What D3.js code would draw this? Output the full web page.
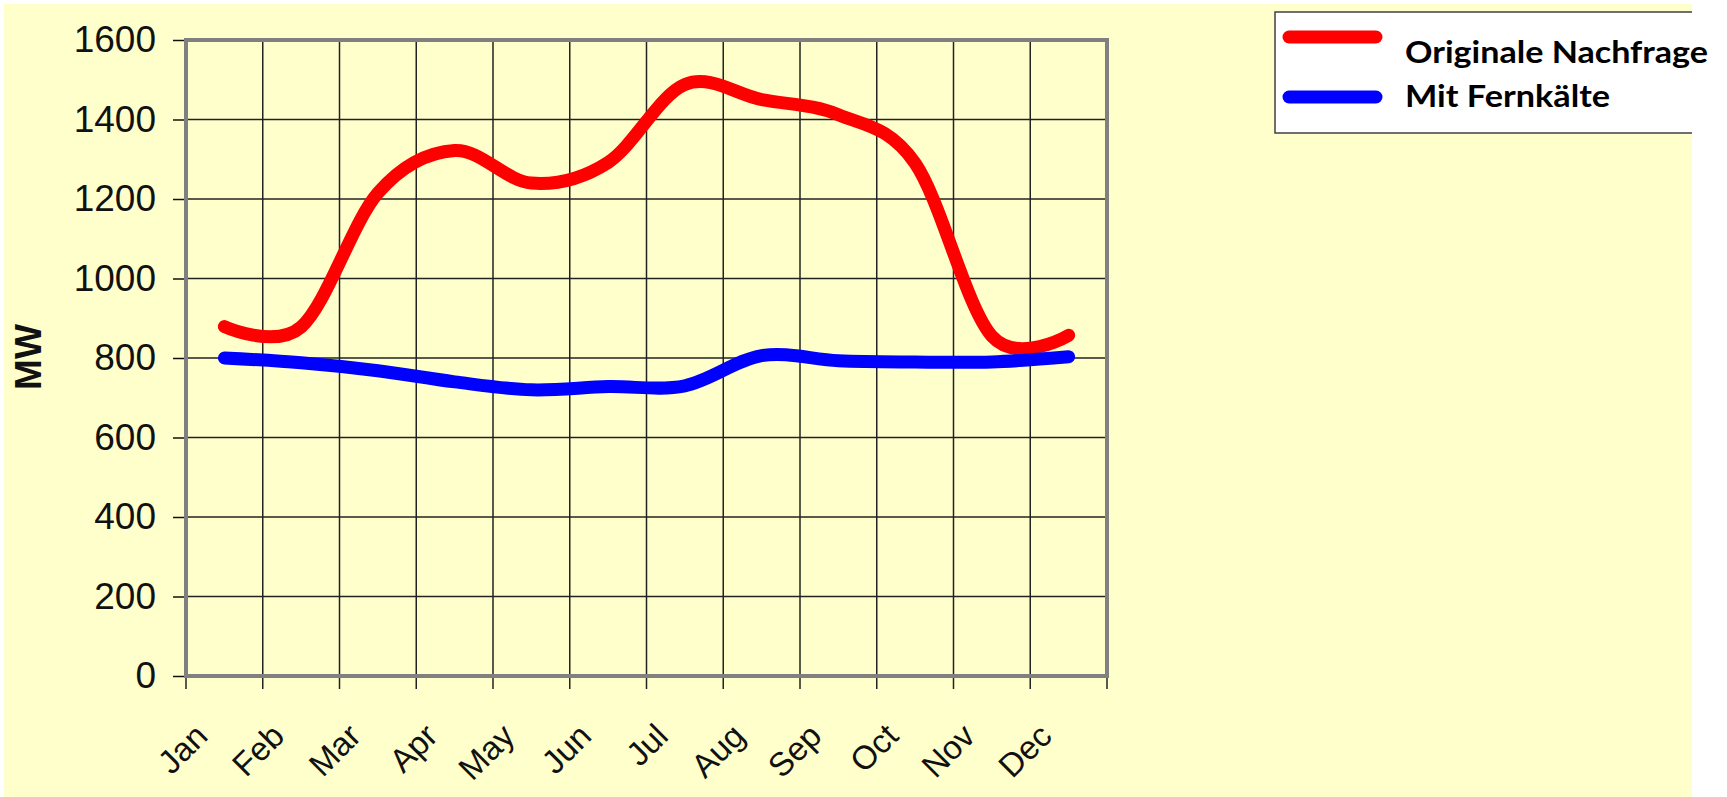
<!DOCTYPE html>
<html>
<head>
<meta charset="utf-8">
<script src="https://cdn.jsdelivr.net/npm/d3@7"></script>
<style>
  body { margin: 0; background: #fff; }
  svg { display: block; }
</style>
</head>
<body>
<div id="chart"></div>
<script>
const months = ['Jan', 'Feb', 'Mar', 'Apr', 'May', 'Jun', 'Jul', 'Aug', 'Sep', 'Oct', 'Nov', 'Dec'];
const originale = [879, 878, 1215, 1322, 1240, 1292, 1488, 1450, 1412, 1290, 855, 857];
const fernkaelte = [800, 788, 768, 740, 720, 728, 730, 806, 793, 790, 790, 803];
const yTicks = [0, 200, 400, 600, 800, 1000, 1200, 1400, 1600];
const seriesNames = ['Originale Nachfrage', 'Mit Fernkälte'];
const seriesColors = ['#ff0000', '#0000ff'];

const W = 1727, H = 797;
const plot = { l: 186, r: 1107, t: 40, b: 676 };

const svg = d3.select('#chart').append('svg')
  .attr('width', W)
  .attr('height', H);

// yellow background
svg.append('rect')
  .attr('x', 4).attr('y', 4)
  .attr('width', 1688).attr('height', H - 4)
  .attr('fill', '#ffffcc');

const x = d3.scaleBand().domain(months).range([plot.l, plot.r]).paddingInner(0).paddingOuter(0);
const y = d3.scaleLinear().domain([0, 1600]).range([plot.b, plot.t]);
const cx = m => x(m) + x.bandwidth() / 2;

// grid
const bounds = months.map(m => x(m)).concat([plot.r]);
svg.append('g').selectAll('line.v')
  .data(bounds)
  .join('line')
  .attr('x1', d => d).attr('x2', d => d)
  .attr('y1', plot.t).attr('y2', plot.b + 13)
  .attr('stroke', '#222').attr('stroke-width', 1.5);

svg.append('g').selectAll('line.h')
  .data(yTicks)
  .join('line')
  .attr('x1', plot.l).attr('x2', plot.r)
  .attr('y1', d => y(d)).attr('y2', d => y(d))
  .attr('stroke', '#222').attr('stroke-width', 1.5);

// y axis
const axisY = d3.axisLeft(y).tickValues(yTicks).tickFormat(d3.format('d')).tickSize(13).tickPadding(17);
const gy = svg.append('g')
  .attr('transform', `translate(${plot.l}, 0)`)
  .call(axisY);
gy.select('.domain').remove();
gy.selectAll('line').attr('stroke', '#111').attr('stroke-width', 1.5);
gy.selectAll('text')
  .style('font-family', '"Liberation Sans", Arial, sans-serif')
  .style('font-size', '37px')
  .attr('fill', '#111');

// frame
svg.append('rect')
  .attr('x', plot.l).attr('y', plot.t)
  .attr('width', plot.r - plot.l).attr('height', plot.b - plot.t)
  .attr('fill', 'none')
  .attr('stroke', '#808080').attr('stroke-width', 4);

// month labels
svg.append('g').selectAll('text')
  .data(months)
  .join('text')
  .attr('transform', d => `translate(${cx(d) - 15}, 738) rotate(-45)`)
  .attr('text-anchor', 'end')
  .style('font-family', '"Liberation Sans", Arial, sans-serif')
  .style('font-size', '33px')
  .attr('fill', '#111')
  .text(d => d);

// y title
svg.append('text')
  .attr('transform', 'translate(41, 357) rotate(-90)')
  .attr('text-anchor', 'middle')
  .style('font-family', '"Liberation Sans", Arial, sans-serif')
  .style('font-size', '37px')
  .style('font-weight', 'bold')
  .attr('fill', '#111')
  .text('MW');

// series
const line = d3.line()
  .x((d, i) => cx(months[i]))
  .y(d => y(d))
  .curve(d3.curveCardinal.tension(0));

[originale, fernkaelte].forEach((s, i) => {
  svg.append('path')
    .datum(s)
    .attr('d', line)
    .attr('fill', 'none')
    .attr('stroke', seriesColors[i])
    .attr('stroke-width', 13)
    .attr('stroke-linecap', 'round')
    .attr('stroke-linejoin', 'round');
});

// legend
const lg = svg.append('g');
lg.append('rect')
  .attr('x', 1275).attr('y', 12)
  .attr('width', 1692 - 1275).attr('height', 121)
  .attr('fill', '#fff');
lg.append('path')
  .attr('d', 'M1692,12 H1275 V133 H1692')
  .attr('fill', 'none')
  .attr('stroke', '#404040').attr('stroke-width', 1.5);

const legendY = [37, 97];
const legendBase = [63, 107];
const legendW = [303, 205];
seriesNames.forEach((name, i) => {
  lg.append('line')
    .attr('x1', 1289).attr('x2', 1376)
    .attr('y1', legendY[i]).attr('y2', legendY[i])
    .attr('stroke', seriesColors[i])
    .attr('stroke-width', 13)
    .attr('stroke-linecap', 'round');
  lg.append('text')
    .attr('x', 1405).attr('y', legendBase[i])
    .attr('textLength', legendW[i])
    .attr('lengthAdjust', 'spacingAndGlyphs')
    .style('font-family', 'Lato, "Open Sans", sans-serif')
    .style('font-size', '30px')
    .style('font-weight', 'bold')
    .attr('fill', '#000')
    .text(name);
});
</script>
</body>
</html>
